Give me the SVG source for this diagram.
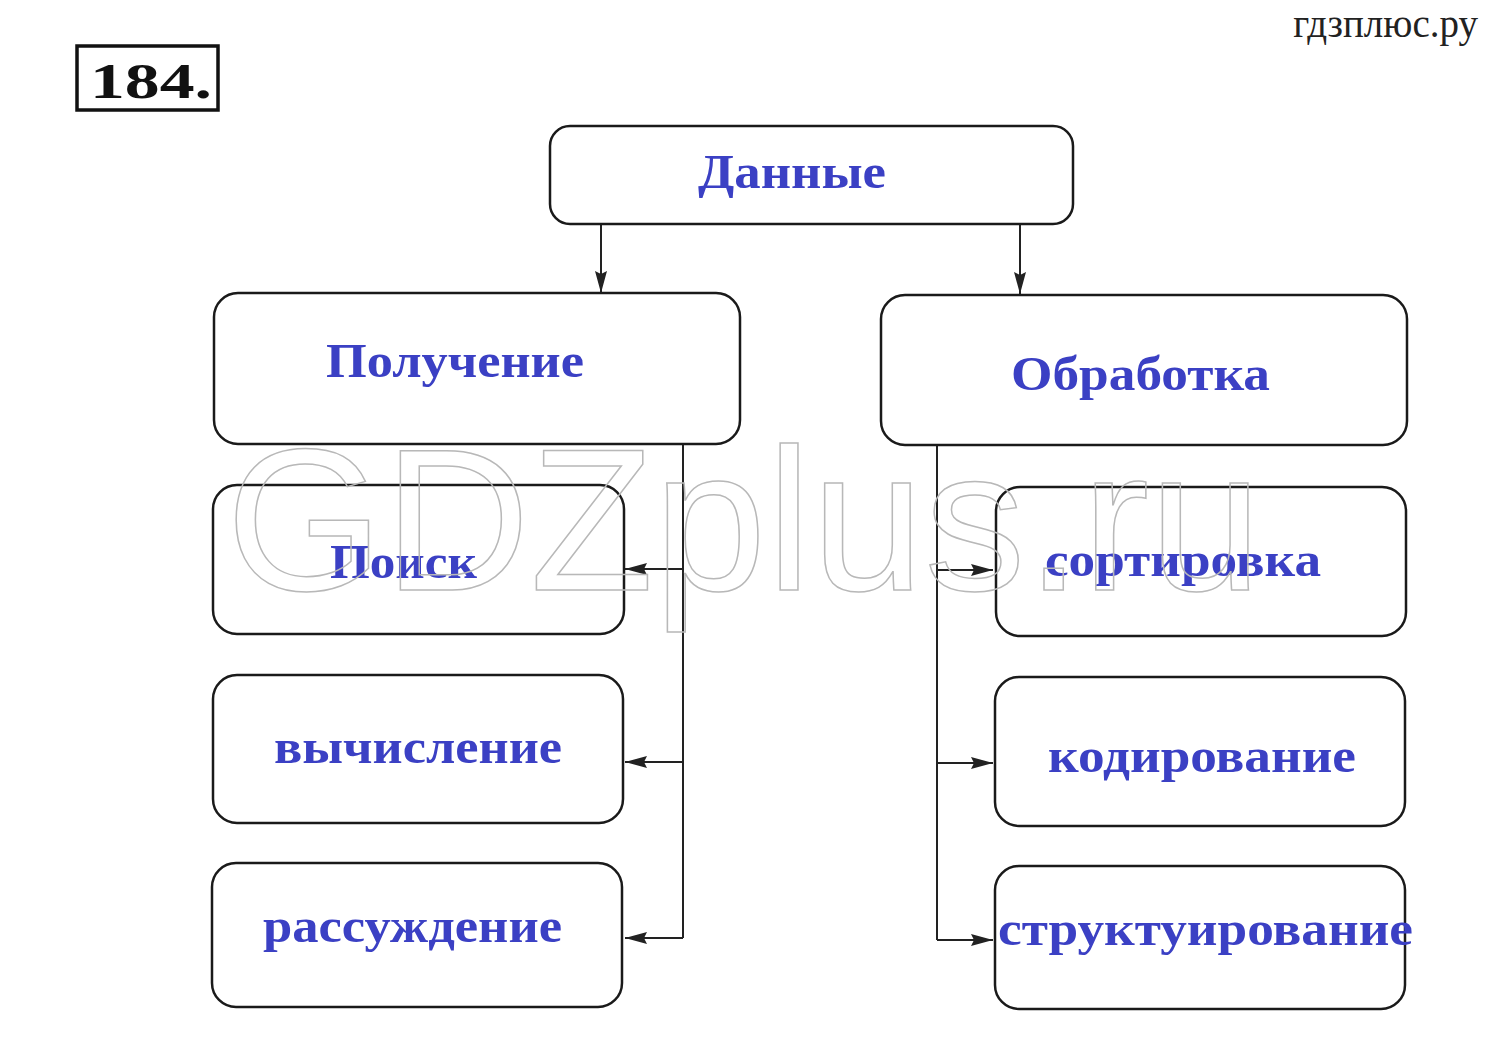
<svg xmlns="http://www.w3.org/2000/svg" width="1489" height="1060" viewBox="0 0 1489 1060">
<defs>
<style>
.box{fill:none;stroke:#1a1a1a;stroke-width:2.5}
.lbl{font-family:"Liberation Serif","DejaVu Serif",serif;font-weight:bold;font-size:48px;fill:#3b40c4;text-anchor:start}
.ln{fill:none;stroke:#222;stroke-width:2}
</style>
<marker id="ah" viewBox="0 0 22 12" refX="22" refY="6" markerWidth="22" markerHeight="12" markerUnits="userSpaceOnUse" orient="auto">
<path d="M0,0 L22,6 L0,12 L3,6 Z" fill="#222"/>
</marker>
</defs>
<rect width="1489" height="1060" fill="#fff"/>
<g id="num">
<rect x="77" y="46" width="141" height="64" fill="none" stroke="#111" stroke-width="3.5"/>
<text x="90" y="98" font-family="Liberation Serif,serif" font-weight="bold" font-size="50" textLength="122" lengthAdjust="spacingAndGlyphs" fill="#111">184.</text>
</g>
<g id="site">
<text x="1478" y="37" text-anchor="end" font-family="Liberation Serif,serif" font-size="39" fill="#222">гдзплюс.ру</text>
</g>
<g id="connectors">
<line class="ln" x1="601" y1="225" x2="601" y2="293" marker-end="url(#ah)"/>
<line class="ln" x1="1020" y1="225" x2="1020" y2="294" marker-end="url(#ah)"/>
<polyline class="ln" points="683,445 683,938"/>
<line class="ln" x1="683" y1="569" x2="625" y2="569" marker-end="url(#ah)"/>
<line class="ln" x1="683" y1="762" x2="625" y2="762" marker-end="url(#ah)"/>
<line class="ln" x1="683" y1="938" x2="625" y2="938" marker-end="url(#ah)"/>
<polyline class="ln" points="937,446 937,940"/>
<line class="ln" x1="937" y1="570" x2="993" y2="570" marker-end="url(#ah)"/>
<line class="ln" x1="937" y1="763" x2="993" y2="763" marker-end="url(#ah)"/>
<line class="ln" x1="937" y1="940" x2="993" y2="940" marker-end="url(#ah)"/>
</g>
<g id="n-dannye">
<rect class="box" x="550" y="126" width="523" height="98" rx="20"/>
<text class="lbl" x="698" y="188" textLength="188" lengthAdjust="spacingAndGlyphs">Данные</text>
</g>
<g id="n-poluchenie">
<rect class="box" x="214" y="293" width="526" height="151" rx="24"/>
<text class="lbl" x="326" y="377" textLength="258" lengthAdjust="spacingAndGlyphs">Получение</text>
</g>
<g id="n-obrabotka">
<rect class="box" x="881" y="295" width="526" height="150" rx="24"/>
<text class="lbl" x="1011" y="390" textLength="259" lengthAdjust="spacingAndGlyphs">Обработка</text>
</g>
<g id="n-poisk">
<rect class="box" x="213" y="485" width="411" height="149" rx="24"/>
<text class="lbl" x="330" y="578" textLength="147" lengthAdjust="spacingAndGlyphs">Поиск</text>
</g>
<g id="n-vychislenie">
<rect class="box" x="213" y="675" width="410" height="148" rx="24"/>
<text class="lbl" x="274" y="763" textLength="288" lengthAdjust="spacingAndGlyphs">вычисление</text>
</g>
<g id="n-rassuzhdenie">
<rect class="box" x="212" y="863" width="410" height="144" rx="24"/>
<text class="lbl" x="263" y="942" textLength="299" lengthAdjust="spacingAndGlyphs">рассуждение</text>
</g>
<g id="n-sortirovka">
<rect class="box" x="996" y="487" width="410" height="149" rx="24"/>
<text class="lbl" x="1045" y="576" textLength="276" lengthAdjust="spacingAndGlyphs">сортировка</text>
</g>
<g id="n-kodirovanie">
<rect class="box" x="995" y="677" width="410" height="149" rx="24"/>
<text class="lbl" x="1048" y="772" textLength="308" lengthAdjust="spacingAndGlyphs">кодирование</text>
</g>
<g id="n-strukturirovanie">
<rect class="box" x="995" y="866" width="410" height="143" rx="24"/>
<text class="lbl" x="998" y="945" textLength="415" lengthAdjust="spacingAndGlyphs">структуирование</text>
</g>
<g id="watermark">
<text x="226" y="590" font-family="Liberation Sans,Arial,sans-serif" font-size="202" fill="none" stroke="#b8b8b8" stroke-width="1.5" textLength="1036" lengthAdjust="spacingAndGlyphs">GDZplus.ru</text>
</g>
</svg>
